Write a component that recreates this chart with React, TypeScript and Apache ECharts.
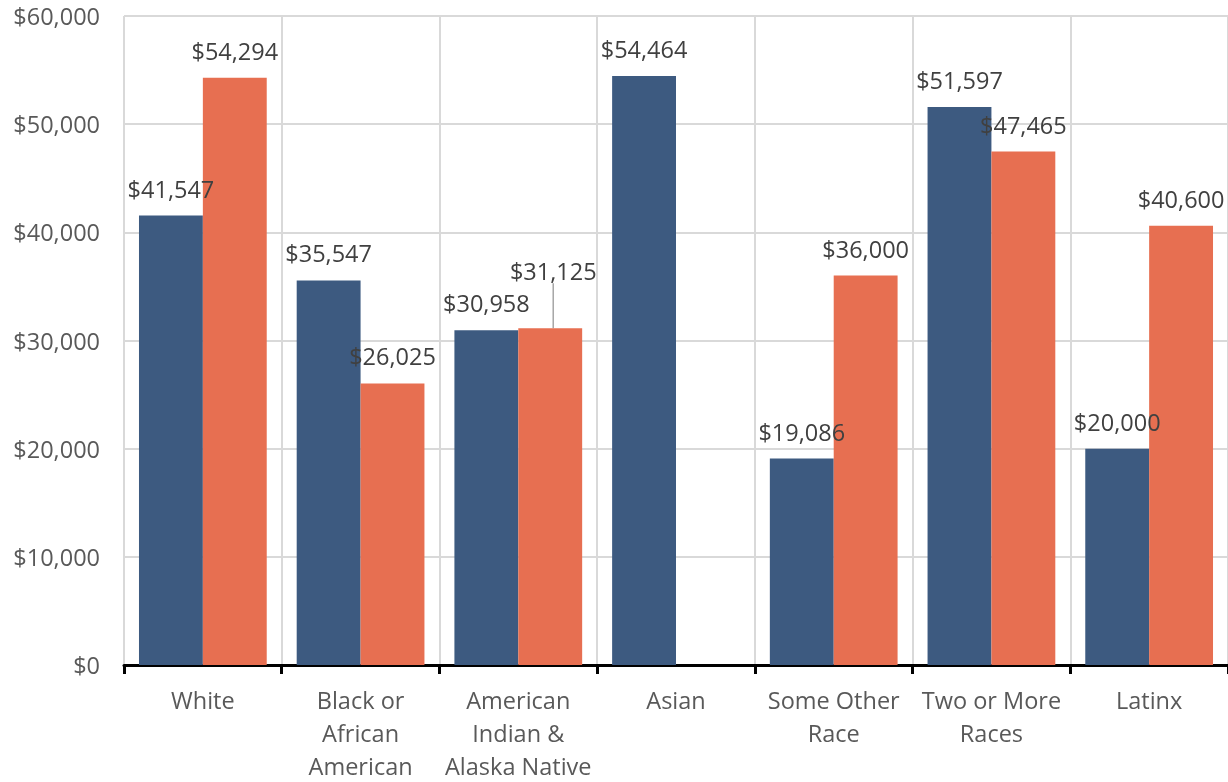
import React, { useEffect, useRef } from "react";
import * as echarts from "echarts";

const categories = [
  "White",
  "Black or\nAfrican\nAmerican",
  "American\nIndian &\nAlaska Native",
  "Asian",
  "Some Other\nRace",
  "Two or More\nRaces",
  "Latinx",
];
const seriesA = [41547, 35547, 30958, 54464, 19086, 51597, 20000];
const seriesB = [54294, 26025, 31125, null, 36000, 47465, 40600];
const yTicks = { min: 0, max: 60000, interval: 10000 };
const leaderIndex = 2;

const fmt = (v: number) => "$" + Math.round(v).toLocaleString("en-US");
const FONT = "'Open Sans', sans-serif";
const TEXT = "#595959";
const LABEL = "#404040";

export default function App() {
  const ref = useRef<HTMLDivElement>(null);
  useEffect(() => {
    if (!ref.current) return;
    const chart = echarts.init(ref.current, undefined, { renderer: "svg" });
    const labelCfg = {
      show: true,
      position: "top",
      distance: 15,
      fontFamily: FONT,
      fontSize: 23.5,
      color: LABEL,
      formatter: (p: any) => fmt(p.value),
    };
    const dataB = seriesB.map((v, i) =>
      i === leaderIndex
        ? {
            value: v,
            labelLine: { show: true, lineStyle: { color: "#a6a6a6", width: 1.5 } },
          }
        : { value: v, labelLine: { show: false } }
    );
    chart.setOption({
      animation: false,
      textStyle: { fontFamily: FONT },
      grid: { left: 124, right: -4, top: 16, height: 653, containLabel: false },
      xAxis: {
        type: "category",
        data: categories,
        axisLine: { show: true, lineStyle: { color: "#000", width: 3 } },
        axisTick: { show: true, length: 9, lineStyle: { color: "#000", width: 3 } },
        splitLine: { show: true, lineStyle: { color: "#d9d9d9", width: 2 } },
        axisLabel: {
          fontFamily: FONT,
          fontSize: 23.5,
          color: TEXT,
          lineHeight: 33,
          margin: 18,
          interval: 0,
        },
      },
      yAxis: {
        type: "value",
        min: yTicks.min,
        max: yTicks.max,
        interval: yTicks.interval,
        axisLine: { show: false },
        axisTick: { show: false },
        splitLine: { show: true, lineStyle: { color: "#d9d9d9", width: 2 } },
        axisLabel: {
          fontFamily: FONT,
          fontSize: 23.5,
          color: TEXT,
          margin: 24,
          formatter: (v: number) => fmt(v),
        },
      },
      series: [
        {
          type: "bar",
          data: seriesA,
          barGap: "0%",
          barCategoryGap: "19%",
          itemStyle: { color: "#3D5A80" },
          label: labelCfg,
        },
        {
          type: "bar",
          data: dataB,
          barGap: "0%",
          barCategoryGap: "19%",
          itemStyle: { color: "#E76F51" },
          label: labelCfg,
          labelLayout: (p: any) =>
            p.dataIndex === leaderIndex ? { dy: -30, dx: 3 } : {},
        },
      ],
    });
    return () => chart.dispose();
  }, []);
  return (
    <div
      ref={ref}
      style={{ position: "fixed", left: 0, top: 0, width: 1228, height: 782 }}
    />
  );
}
